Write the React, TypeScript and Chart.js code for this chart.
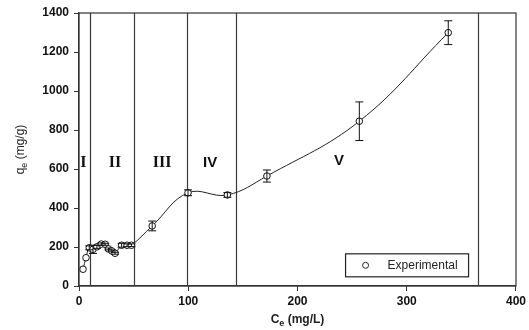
import React, { useEffect, useRef } from "react";
import { Chart, registerables } from "chart.js";

Chart.register(...registerables);

const ceValues = [3.7, 6.4, 9.4, 12.8, 16.4, 20.4, 24, 27, 30, 33, 39, 44, 48, 67, 99.8, 135.8, 172, 256.6, 338];
const qeValues = [86, 145, 196, 188, 201, 215, 214, 190, 180, 168, 209, 209, 209, 308, 478, 467, 564, 845, 1299];
const qeErrors = [0, 0, 10, 21, 8, 6, 5, 5, 5, 5, 10, 7, 7, 25, 15, 12, 31, 99, 61];
const regionBoundaries = [10, 50, 99, 144, 365];
const regionLabels = ["I", "II", "III", "IV", "V"];
const regionLabelX = [4, 33, 76, 120, 238];
const regionLabelY = [630, 630, 630, 630, 640];
const xTicks = [0, 100, 200, 300, 400];
const yTicks = [0, 200, 400, 600, 800, 1000, 1200, 1400];
const legendLabel = "Experimental";

const overlay = {
  id: "overlay",
  beforeDatasetsDraw(chart: any) {
    const { ctx, chartArea, scales } = chart;
    const xs = scales.x;
    ctx.save();
    ctx.strokeStyle = "#3a3a3a";
    ctx.lineWidth = 1.2;
    regionBoundaries.forEach((b) => {
      const px = Math.round(xs.getPixelForValue(b)) + 0.5;
      ctx.beginPath();
      ctx.moveTo(px, chartArea.top);
      ctx.lineTo(px, chartArea.bottom);
      ctx.stroke();
    });
    ctx.fillStyle = "#111";
    ctx.textAlign = "center";
    ctx.textBaseline = "middle";
    regionLabels.forEach((l, i) => {
      ctx.font = i < 3 ? "bold 16px 'Liberation Serif'" : "bold 15px 'Liberation Sans'";
      ctx.fillText(l, xs.getPixelForValue(regionLabelX[i]), scales.y.getPixelForValue(regionLabelY[i]));
    });
    ctx.restore();
  },
  afterDatasetsDraw(chart: any) {
    const { ctx, chartArea, scales } = chart;
    const xs = scales.x;
    const ys = scales.y;
    ctx.save();
    ctx.strokeStyle = "#111";
    ctx.lineWidth = 1;
    ceValues.forEach((x, i) => {
      const e = qeErrors[i];
      if (!e) return;
      const px = xs.getPixelForValue(x);
      const top = ys.getPixelForValue(qeValues[i] + e);
      const bot = ys.getPixelForValue(qeValues[i] - e);
      ctx.beginPath();
      ctx.moveTo(px, top);
      ctx.lineTo(px, bot);
      ctx.moveTo(px - 4, top);
      ctx.lineTo(px + 4, top);
      ctx.moveTo(px - 4, bot);
      ctx.lineTo(px + 4, bot);
      ctx.stroke();
    });
    ctx.strokeStyle = "#333";
    ctx.lineWidth = 1.2;
    ctx.strokeRect(chartArea.left, chartArea.top, chartArea.right - chartArea.left, chartArea.bottom - chartArea.top);
    const lx = xs.getPixelForValue(244);
    const ly = ys.getPixelForValue(165);
    const lw = 123;
    const lh = 23;
    ctx.fillStyle = "#fff";
    ctx.fillRect(lx, ly, lw, lh);
    ctx.strokeStyle = "#222";
    ctx.lineWidth = 1.2;
    ctx.strokeRect(lx, ly, lw, lh);
    ctx.beginPath();
    ctx.arc(lx + 20, ly + lh / 2, 3, 0, Math.PI * 2);
    ctx.lineWidth = 1;
    ctx.stroke();
    ctx.fillStyle = "#222";
    ctx.font = "12px 'Liberation Sans'";
    ctx.textAlign = "left";
    ctx.textBaseline = "middle";
    ctx.fillText(legendLabel, lx + 42, ly + lh / 2 + 0.5);
    const cx = (chartArea.left + chartArea.right) / 2;
    const drawSub = (main: string, sub: string, rest: string, x: number, y: number, bold: string) => {
      ctx.font = bold + "12px 'Liberation Sans'";
      const w1 = ctx.measureText(main).width;
      ctx.font = bold + "9px 'Liberation Sans'";
      const w2 = ctx.measureText(sub).width;
      ctx.font = bold + "12px 'Liberation Sans'";
      const w3 = ctx.measureText(rest).width;
      const total = w1 + w2 + w3;
      let sx = x - total / 2;
      ctx.textAlign = "left";
      ctx.textBaseline = "middle";
      ctx.fillText(main, sx, y);
      sx += w1;
      ctx.font = bold + "9px 'Liberation Sans'";
      ctx.fillText(sub, sx, y + 4);
      sx += w2;
      ctx.font = bold + "12px 'Liberation Sans'";
      ctx.fillText(rest, sx, y);
    };
    ctx.fillStyle = "#222";
    drawSub("C", "e", " (mg/L)", cx, 320, "bold ");
    ctx.save();
    ctx.translate(21, (chartArea.top + chartArea.bottom) / 2);
    ctx.rotate(-Math.PI / 2);
    drawSub("q", "e", " (mg/g)", 0, 0, "");
    ctx.restore();
    ctx.restore();
  },
};

export default function App() {
  const ref = useRef<HTMLCanvasElement>(null);
  useEffect(() => {
    if (!ref.current) return;
    const chart = new Chart(ref.current, {
      type: "line",
      data: {
        datasets: [
          {
            label: legendLabel,
            data: ceValues.map((x, i) => ({ x, y: qeValues[i] })),
            borderColor: "#222",
            borderWidth: 1,
            tension: 0.4,
            pointRadius: 3.3,
            pointBorderWidth: 1,
            pointBackgroundColor: "#fff",
            pointBorderColor: "#111",
            pointStyle: "circle",
          },
        ],
      },
      options: {
        animation: false,
        responsive: false,
        layout: { padding: { top: 13, right: 13, left: 0, bottom: 0 } },
        plugins: { legend: { display: false }, tooltip: { enabled: false } },
        scales: {
          x: {
            type: "linear",
            min: 0,
            max: 400,
            afterBuildTicks: (s: any) => {
              s.ticks = xTicks.map((v) => ({ value: v }));
            },
            afterFit: (s: any) => {
              s.height = 44;
            },
            ticks: {
              color: "#111",
              font: { family: "'Liberation Sans'", size: 12, weight: "bold" },
              padding: 3,
              maxRotation: 0,
              callback: (v: any) => String(v),
            },
            grid: { display: true, drawOnChartArea: false, drawTicks: true, tickLength: 5, color: "#333" },
            border: { display: true, color: "#333", width: 1.2 },
          },
          y: {
            type: "linear",
            min: 0,
            max: 1400,
            afterBuildTicks: (s: any) => {
              s.ticks = yTicks.map((v) => ({ value: v }));
            },
            afterFit: (s: any) => {
              s.width = 79;
            },
            ticks: {
              color: "#111",
              font: { family: "'Liberation Sans'", size: 12, weight: "bold" },
              padding: 5,
              callback: (v: any) => String(v),
            },
            grid: { display: true, drawOnChartArea: false, drawTicks: true, tickLength: 5, color: "#333" },
            border: { display: true, color: "#333", width: 1.2 },
          },
        },
      },
      plugins: [overlay],
    });
    return () => chart.destroy();
  }, []);
  return (
    <div style={{ position: "fixed", left: 0, top: 0, width: 529, height: 330, background: "#fff" }}>
      <canvas ref={ref} width={529} height={330} style={{ width: 529, height: 330 }} />
    </div>
  );
}
